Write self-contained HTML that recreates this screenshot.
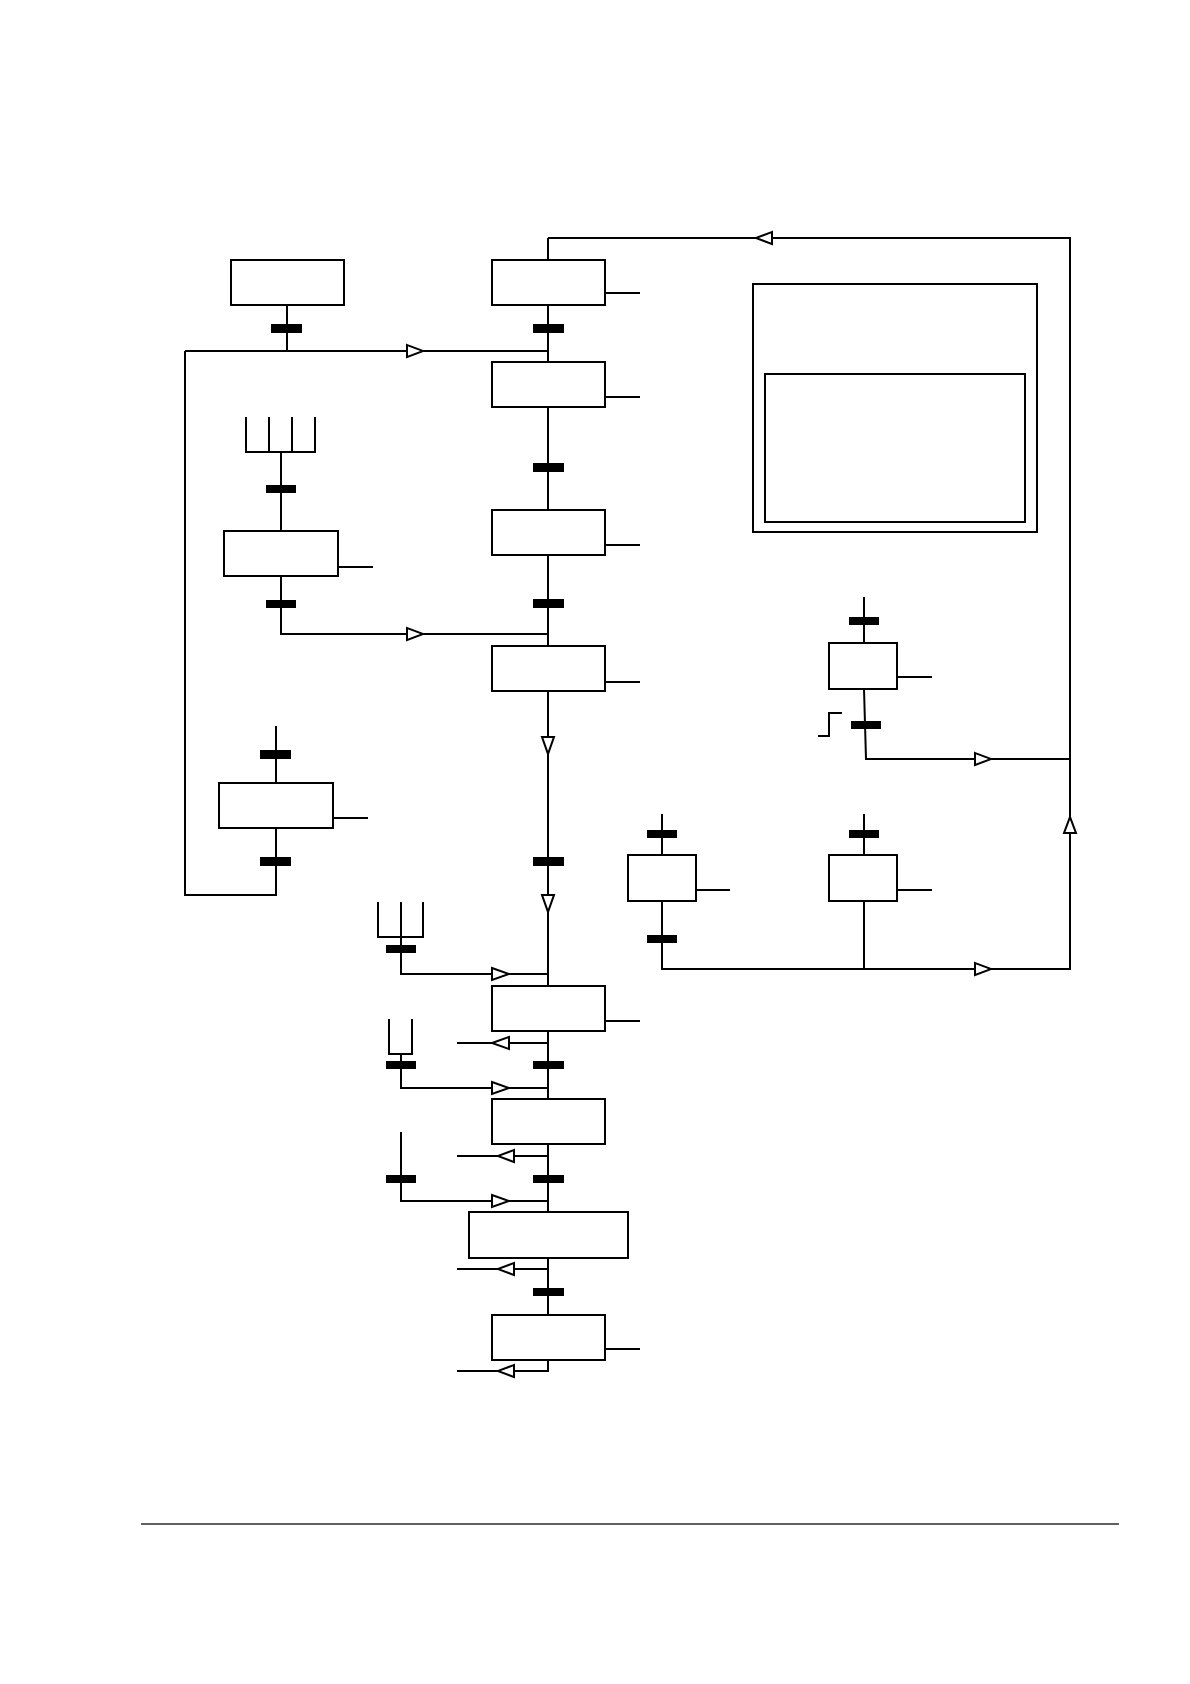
<!DOCTYPE html>
<html><head><meta charset="utf-8"><style>html,body{margin:0;padding:0;background:#fff}svg{display:block}</style></head>
<body>
<svg width="1190" height="1684" viewBox="0 0 1190 1684" xmlns="http://www.w3.org/2000/svg">
<g fill="none" stroke="#000" stroke-width="2">
<rect x="231" y="260" width="113" height="45"/>
<rect x="492" y="260" width="113" height="45"/>
<rect x="492" y="362" width="113" height="45"/>
<rect x="224" y="531" width="114" height="45"/>
<rect x="492" y="510" width="113" height="45"/>
<rect x="492" y="646" width="113" height="45"/>
<rect x="219" y="783" width="114" height="45"/>
<rect x="753" y="284" width="284" height="248"/>
<rect x="765" y="374" width="260" height="148"/>
<rect x="829" y="643" width="68" height="46"/>
<rect x="628" y="855" width="68" height="46"/>
<rect x="829" y="855" width="68" height="46"/>
<rect x="492" y="986" width="113" height="45"/>
<rect x="492" y="1099" width="113" height="45"/>
<rect x="469" y="1212" width="159" height="46"/>
<rect x="492" y="1315" width="113" height="45"/>
<path d="M605 293H640M605 397H640M605 545H640M605 682H640M338 567H373M333 818H368M897 677H932M696 890H730M897 890H932M605 1021H640M605 1349H640"/>
<path d="M548 238V260M548 305V362M548 407V510M548 555V646M548 691V986M548 1031V1099M548 1144V1212M548 1258V1315M548 1360V1371H457"/>
<path d="M548 238H1070V969H662V901M864 901V969M662 814V855M864 814V855"/>
<path d="M287 305V351M185 351H548M185 351V895H276V828M276 783V726"/>
<path d="M246 417V452H315V417M269 417V452M292 417V452M281 452V531M281 576V634H548"/>
<path d="M864 597V643M864 689L866 759H1070"/>
<path d="M818 736H829V713H842"/>
<path d="M378 902V937H423V902M401 902V974H548M389 1019V1054H412V1019M401 1054V1088H548M401 1132V1201H548"/>
<path d="M457 1043H548M457 1156H548M457 1269H548"/>
<path d="M141 1524H1119" stroke-width="1.3"/>
</g>
<g fill="#000">
<rect x="271" y="324" width="31" height="9"/>
<rect x="533" y="324" width="31" height="9"/>
<rect x="533" y="463" width="31" height="9"/>
<rect x="266" y="485" width="30" height="8"/>
<rect x="266" y="600" width="30" height="8"/>
<rect x="533" y="599" width="31" height="9"/>
<rect x="260" y="750" width="31" height="9"/>
<rect x="260" y="857" width="31" height="9"/>
<rect x="533" y="857" width="31" height="9"/>
<rect x="849" y="617" width="30" height="8"/>
<rect x="851" y="721" width="30" height="8"/>
<rect x="647" y="830" width="30" height="8"/>
<rect x="849" y="830" width="30" height="8"/>
<rect x="647" y="935" width="30" height="8"/>
<rect x="386" y="945" width="30" height="8"/>
<rect x="386" y="1061" width="30" height="8"/>
<rect x="533" y="1061" width="31" height="8"/>
<rect x="386" y="1175" width="30" height="8"/>
<rect x="533" y="1175" width="31" height="8"/>
<rect x="533" y="1288" width="31" height="8"/>
</g>
<g fill="#fff" stroke="#000" stroke-width="2">
<path d="M407 345L423 351L407 357Z"/>
<path d="M407 628L423 634L407 640Z"/>
<path d="M772 232L756 238L772 244Z"/>
<path d="M542 737L548 754L554 737Z"/>
<path d="M542 895L548 912L554 895Z"/>
<path d="M975 753L991 759L975 765Z"/>
<path d="M975 963L991 969L975 975Z"/>
<path d="M1064 833L1070 817L1076 833Z"/>
<path d="M492 968L509 974L492 980Z"/>
<path d="M509 1037L492 1043L509 1049Z"/>
<path d="M492 1082L509 1088L492 1094Z"/>
<path d="M514 1150L498 1156L514 1162Z"/>
<path d="M492 1195L509 1201L492 1207Z"/>
<path d="M514 1263L498 1269L514 1275Z"/>
<path d="M514 1365L498 1371L514 1377Z"/>
</g>
</svg>
</body></html>
